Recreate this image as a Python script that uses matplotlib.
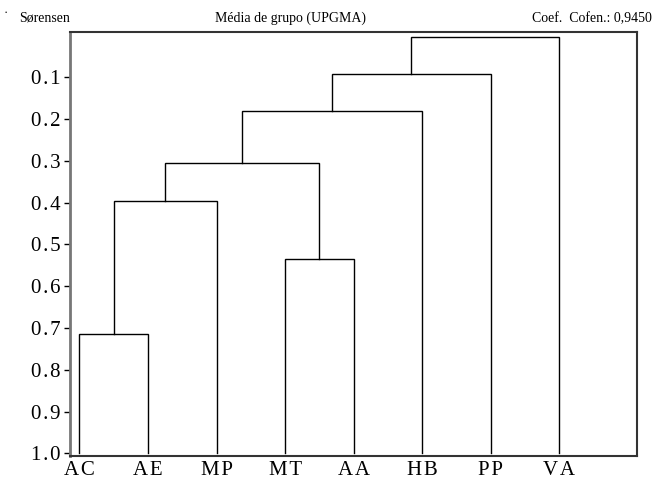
import matplotlib.pyplot as plt

plt.rcParams['font.family'] = ['Liberation Serif', 'DejaVu Serif']

# leaves in dendrogram order
leaves = ["AC", "AE", "MP", "MT", "AA", "HB", "PP", "VA"]

# merges: (left child, right child, height); children are leaf names or merge index
merge_left = ["AC", "MT", 0, 2, 3, 4, 5]
merge_right = ["AE", "AA", "MP", 1, "HB", "PP", "VA"]
merge_height = [0.714, 0.534, 0.397, 0.306, 0.180, 0.093, 0.004]

yticks = [0.1, 0.2, 0.3, 0.4, 0.5, 0.6, 0.7, 0.8, 0.9, 1.0]

HAIR = "\u200a"


def spaced(s):
    # old plotting software draws labels with wide letter spacing
    return HAIR.join(s)


def main():
    fig = plt.figure(figsize=(6.54, 4.79), dpi=100)
    ax = fig.add_axes([0.1075, 0.049, 0.866, 0.884])

    # position of each node: x, y
    pos = {name: (i, 1.0) for i, name in enumerate(leaves)}
    for k, (a, b, h) in enumerate(zip(merge_left, merge_right, merge_height)):
        xa, ya = pos[a]
        xb, yb = pos[b]
        ax.plot([xa, xa, xb, xb], [ya, h, h, yb], color="black", lw=1.0,
                solid_joinstyle="miter")
        pos[k] = ((xa + xb) / 2, h)

    ax.set_xlim(-0.134, 8.13)
    ax.set_ylim(1.005, -0.008)
    ax.set_yticks(yticks)
    ax.set_yticklabels([spaced(f"{t:.1f}") for t in yticks], fontsize=15)
    ax.set_xticks(range(len(leaves)))
    ax.set_xticklabels([spaced(l) for l in leaves], fontsize=15)
    ax.tick_params(axis="x", length=0, pad=4)
    ax.tick_params(axis="y", length=4, width=1, pad=3, direction="out")
    for s in ax.spines.values():
        s.set_linewidth(1.5)
        s.set_color("#333333")
    ax.spines["left"].set_color("#777777")
    ax.spines["left"].set_linewidth(2)

    fig.text(0.005, 0.972, "·", fontsize=9, va="center", ha="left")
    fig.text(0.030, 0.962, "Sørensen", fontsize=10, va="center", ha="left")
    fig.text(0.444, 0.962, "Média de grupo (UPGMA)", fontsize=10, va="center", ha="center")
    fig.text(0.996, 0.962, "Coef.  Cofen.: 0,9450", fontsize=10, va="center", ha="right")

    fig.savefig("out.png", dpi=100)
    plt.close(fig)


if __name__ == "__main__":
    main()
